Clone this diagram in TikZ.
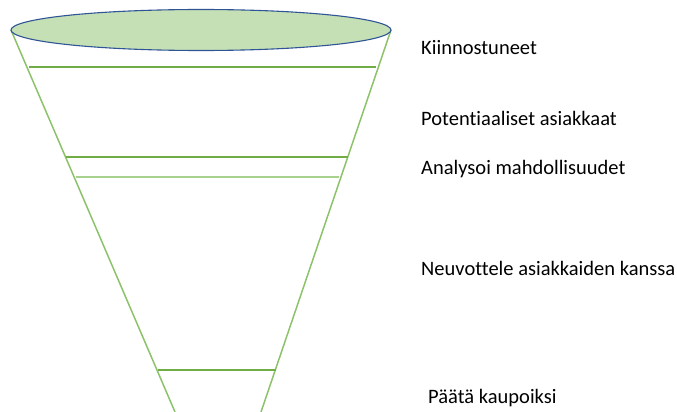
\documentclass[tikz,border=0pt]{standalone}
\usepackage{fontspec}
\setmainfont{Carlito}[RawFeature=-liga]
\usetikzlibrary{shapes.geometric}
\begin{document}
\begin{tikzpicture}[x=1pt,y=-1pt,
  side/.style={draw=sidegreen,line width=1.5pt},
  stage/.style={draw=stagegreen,line width=1.4pt},
  lightstage/.style={draw=lightgreen,line width=2.2pt},
  label/.style={anchor=west,inner sep=0pt,font=\fontsize{20.5}{24}\selectfont}]
\definecolor{sidegreen}{HTML}{8CC26A}
\definecolor{stagegreen}{HTML}{70AD47}
\definecolor{lightgreen}{HTML}{A9D18E}
\definecolor{rimfill}{HTML}{C5E0B4}
\definecolor{rimblue}{HTML}{2F5597}
\useasboundingbox (0,0) rectangle (677,412);
% funnel walls
\coordinate (lt) at (11,30);
\coordinate (lb) at (175,412);
\coordinate (rt) at (391,30);
\coordinate (rb) at (261,412);
\draw[side] (lt) -- (lb);
\draw[side] (rt) -- (rb);
% stage dividers
\coordinate (s1l) at (29,67);  \coordinate (s1r) at (376,67);
\coordinate (s2l) at (66,157); \coordinate (s2r) at (348,157);
\coordinate (s3l) at (76,177); \coordinate (s3r) at (339,177);
\coordinate (s4l) at (158,370); \coordinate (s4r) at (276,370);
\draw[stage] (s1l) -- (s1r);
\draw[stage] (s2l) -- (s2r);
\draw[lightstage] (s3l) -- (s3r);
\draw[stage] (s4l) -- (s4r);
% funnel mouth
\node[ellipse,draw=rimblue,fill=rimfill,line width=1.1pt,minimum width=380pt,minimum height=41pt,inner sep=0pt] (rim) at (201,30) {};
% stage labels
\node[label] (k) at (421,48) {Kiinnostuneet};
\node[label] (p) at (421,118) {Potentiaaliset asiakkaat};
\node[label] (a) at (421,169) {Analysoi mahdollisuudet};
\node[label] (n) at (421,268) {Neuvottele asiakkaiden kanssa};
\node[label] (d) at (428,398) {Päätä kaupoiksi};
\end{tikzpicture}
\end{document}
